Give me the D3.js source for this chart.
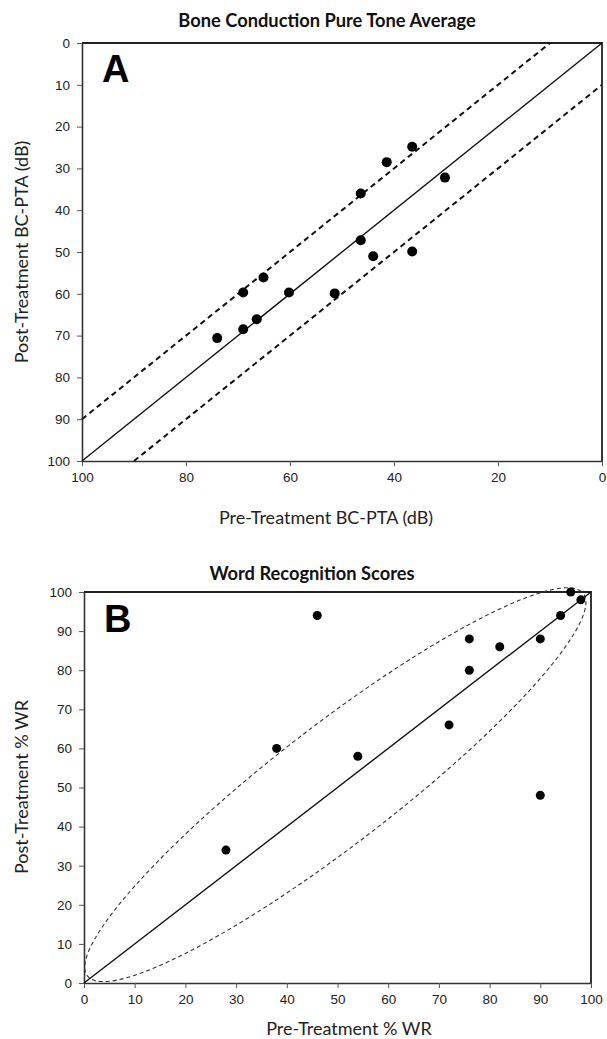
<!DOCTYPE html>
<html>
<head>
<meta charset="utf-8">
<script src="https://cdn.jsdelivr.net/npm/d3@7"></script>
<style>
  body { margin: 0; background: #fff; }
  .tick text { font-family: 'Liberation Sans', Arial, sans-serif; font-size: 13.5px; fill: #222; }
  .tick line { stroke: #555; }
  .domain { stroke: #333; stroke-width: 1.6px; }
  .title { font-family: Lato, sans-serif; font-weight: bold; font-size: 18.3px; fill: #111; }
  .axlabel { font-family: Lato, sans-serif; font-size: 18px; fill: #222; }
  .panel { font-family: 'Liberation Sans', Arial, sans-serif; font-weight: bold; font-size: 38px; fill: #000; }
</style>
</head>
<body>
<div id="chart"></div>
<script>
// panel A: bone conduction PTA (dB), pre vs post
var preBC  = [36.5, 41.4, 30.2, 46.4, 46.4, 44.0, 36.5, 65.1, 69.0, 60.2, 51.4, 66.4, 69.0, 74.0];
var postBC = [24.8, 28.5, 32.2, 36.0, 47.2, 51.0, 49.9, 56.1, 59.7, 59.7, 59.9, 66.1, 68.5, 70.6];
var bcTicksX = [100, 80, 60, 40, 20, 0];
var bcTicksY = [0, 10, 20, 30, 40, 50, 60, 70, 80, 90, 100];
var bcBands = [-10, 10]; // +/- 10 dB lines

// panel B: word recognition (%), pre vs post
var preWR  = [96, 98, 94, 46, 76, 90, 82, 76, 72, 38, 54, 90, 28];
var postWR = [100, 98, 94, 94, 88, 88, 86, 80, 66, 60, 58, 48, 34];
var wrTicks = [0, 10, 20, 30, 40, 50, 60, 70, 80, 90, 100];
// dashed ellipse around the diagonal, sizes as fractions of the half diagonal
var ellMajor = 0.978, ellMinor = 0.186, ellShift = 0.011;

var width = 607, height = 1039;
var svg = d3.select('#chart').append('svg')
  .attr('width', width)
  .attr('height', height);

function frame(xs, ys, xTicks, yTicks) {
  svg.append('g')
    .attr('transform', 'translate(0,' + ys.range()[0] + ')')
    .call(d3.axisBottom(xs).tickValues(xTicks).tickSize(5).tickSizeOuter(0).tickPadding(6));
  svg.append('g')
    .attr('transform', 'translate(' + xs.range()[0] + ',0)')
    .call(d3.axisLeft(ys).tickValues(yTicks).tickSize(5).tickSizeOuter(0).tickPadding(7));
  // top and right border
  svg.append('path')
    .attr('d', 'M' + xs.range()[0] + ',' + ys.range()[1] + 'H' + xs.range()[1] + 'V' + ys.range()[0])
    .attr('fill', 'none')
    .attr('stroke', '#222')
    .attr('stroke-width', 1.8);
}

// ---- panel A ----
var xA = d3.scaleLinear().domain([100, 0]).range([82, 602]);
var yA = d3.scaleLinear().domain([100, 0]).range([461, 43]);
frame(xA, yA, bcTicksX, bcTicksY);

svg.append('line')
  .attr('x1', xA(100)).attr('y1', yA(100))
  .attr('x2', xA(0)).attr('y2', yA(0))
  .attr('stroke', '#111').attr('stroke-width', 1.4);

bcBands.forEach(function(off) {
  // y = x + off, clipped to 0..100
  var x0 = off < 0 ? 100 : 100 - off;
  var x1 = off < 0 ? -off : 0;
  svg.append('line')
    .attr('x1', xA(x0)).attr('y1', yA(x0 + off))
    .attr('x2', xA(x1)).attr('y2', yA(x1 + off))
    .attr('stroke', '#111').attr('stroke-width', 2)
    .attr('stroke-dasharray', '5.5,4');
});

svg.append('g').selectAll('circle')
  .data(preBC)
  .enter()
  .append('circle')
  .attr('cx', d => xA(d))
  .attr('cy', (d, i) => yA(postBC[i]))
  .attr('r', 5)
  .attr('fill', '#000');

svg.append('text').attr('class', 'panel').attr('x', 102).attr('y', 82).text('A');
svg.append('text').attr('class', 'title').attr('x', 327).attr('y', 27)
  .attr('text-anchor', 'middle').text('Bone Conduction Pure Tone Average');
svg.append('text').attr('class', 'axlabel').attr('x', 326).attr('y', 524)
  .attr('text-anchor', 'middle').text('Pre-Treatment BC-PTA (dB)');
svg.append('text').attr('class', 'axlabel')
  .attr('transform', 'rotate(-90)')
  .attr('x', -252).attr('y', 28)
  .attr('text-anchor', 'middle').text('Post-Treatment BC-PTA (dB)');

// ---- panel B ----
var xB = d3.scaleLinear().domain([0, 100]).range([84, 591]);
var yB = d3.scaleLinear().domain([0, 100]).range([983, 592]);
frame(xB, yB, wrTicks, wrTicks);

// ellipse drawn in screen space along the 0-100 diagonal
var p0 = [xB(0), yB(0)], p1 = [xB(100), yB(100)];
var half = Math.hypot(p1[0] - p0[0], p1[1] - p0[1]) / 2;
var ux = (p1[0] - p0[0]) / (2 * half), uy = (p1[1] - p0[1]) / (2 * half);
var nx = uy, ny = -ux; // perpendicular, pointing up-left
var cx = (p0[0] + p1[0]) / 2 + nx * ellShift * half;
var cy = (p0[1] + p1[1]) / 2 + ny * ellShift * half;
var ellPts = d3.range(0, 360, 3).map(function(deg) {
  var t = deg * Math.PI / 180;
  var u = ellMajor * half * Math.cos(t), v = ellMinor * half * Math.sin(t);
  return [cx + u * ux + v * nx, cy + u * uy + v * ny];
});
svg.append('path')
  .datum(ellPts)
  .attr('d', d3.line().curve(d3.curveCardinalClosed))
  .attr('fill', 'none')
  .attr('stroke', '#333')
  .attr('stroke-width', 1.1)
  .attr('stroke-dasharray', '4,3');

svg.append('line')
  .attr('x1', xB(0)).attr('y1', yB(0))
  .attr('x2', xB(100)).attr('y2', yB(100))
  .attr('stroke', '#111').attr('stroke-width', 1.4);

svg.append('g').selectAll('circle')
  .data(preWR)
  .enter()
  .append('circle')
  .attr('cx', d => xB(d))
  .attr('cy', (d, i) => yB(postWR[i]))
  .attr('r', 4.5)
  .attr('fill', '#000');

svg.append('text').attr('class', 'panel').attr('x', 104).attr('y', 632).text('B');
svg.append('text').attr('class', 'title').attr('x', 312).attr('y', 580)
  .attr('text-anchor', 'middle').text('Word Recognition Scores');
svg.append('text').attr('class', 'axlabel').attr('x', 349).attr('y', 1035)
  .attr('text-anchor', 'middle').text('Pre-Treatment % WR');
svg.append('text').attr('class', 'axlabel')
  .attr('transform', 'rotate(-90)')
  .attr('x', -787).attr('y', 28)
  .attr('text-anchor', 'middle').text('Post-Treatment % WR');
</script>
</body>
</html>
